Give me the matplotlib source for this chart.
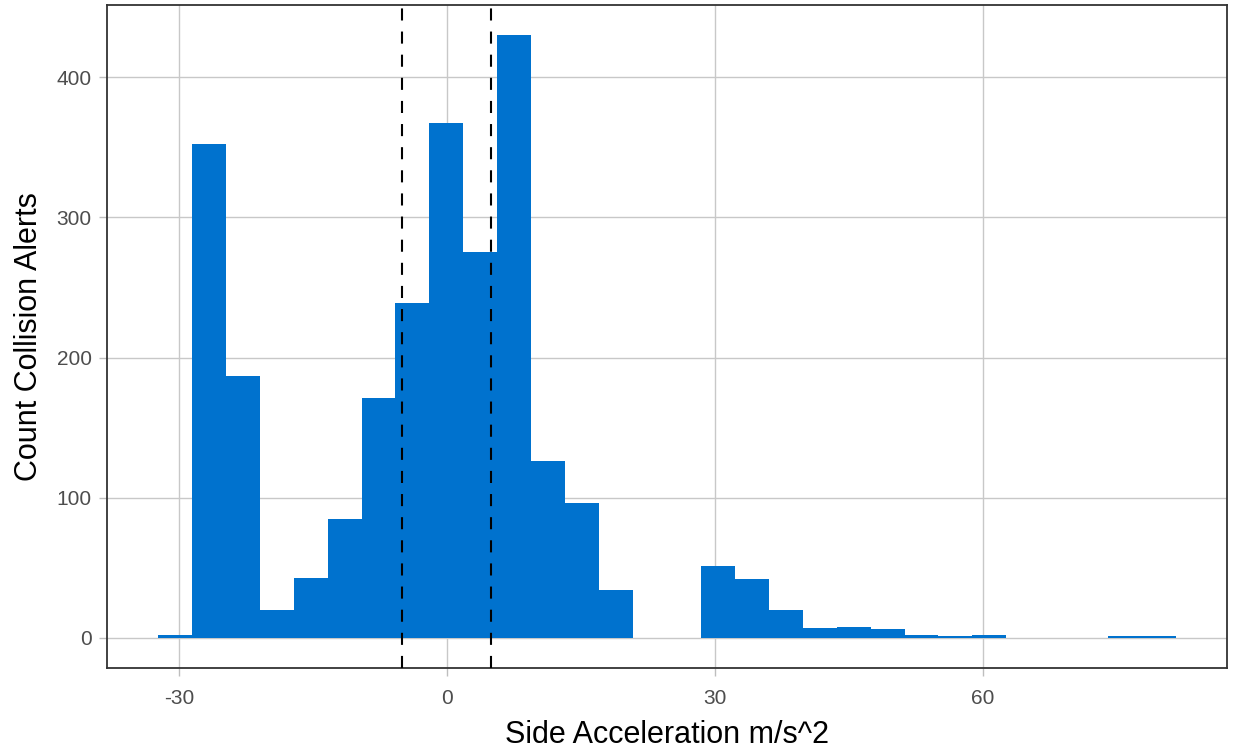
import matplotlib
matplotlib.use("Agg")
import matplotlib.pyplot as plt
import numpy as np

# histogram of side acceleration (30 bins)
BIN_START = -32.35
BIN_END = 81.65
COUNTS = [2, 352, 187, 20, 43, 85, 171, 239, 367, 275,
          430, 126, 96, 34, 0, 0, 51, 42, 20, 7,
          8, 6, 2, 1, 2, 0, 0, 0, 1, 1]
THRESHOLDS = [-5, 5]
X_TICKS = [-30, 0, 30, 60]
Y_TICKS = [0, 100, 200, 300, 400]

BAR_COLOR = "#0072CE"

plt.rcParams["font.family"] = ["Liberation Sans", "DejaVu Sans"]
plt.rcParams["axes.unicode_minus"] = False

edges = np.linspace(BIN_START, BIN_END, len(COUNTS) + 1)

fig = plt.figure(figsize=(12.33, 7.48), dpi=100)
ax = fig.add_axes([0.0868, 0.107, 0.9083, 0.8863])

ax.bar(edges[:-1], COUNTS, width=np.diff(edges), align="edge",
       color=BAR_COLOR, edgecolor="none", zorder=2)
for t in THRESHOLDS:
    ax.axvline(t, color="black", linewidth=1.5, linestyle=(0, (5.8, 5.3)), zorder=3)

span = BIN_END - BIN_START
ax.set_xlim(BIN_START - 0.05 * span, BIN_END + 0.05 * span)
ax.set_ylim(-0.05 * max(COUNTS), max(COUNTS) * 1.05)

ax.set_xticks(X_TICKS)
ax.set_yticks(Y_TICKS)
ax.grid(True, color="#C8C8C8", linewidth=1.0, zorder=0)
ax.set_axisbelow(True)

ax.tick_params(axis="both", colors="#BEBEBE", labelcolor="#4D4D4D",
               labelsize=15, length=6, width=1)
ax.tick_params(axis="x", pad=9.5)
ax.tick_params(axis="y", pad=5)
for side in ax.spines.values():
    side.set_color("#333333")
    side.set_linewidth(1.3)

ax.set_xlabel("Side Acceleration m/s^2", fontsize=22, color="black", labelpad=8)
ax.set_ylabel("Count Collision Alerts", fontsize=22, color="black", labelpad=9)

fig.savefig("out.png", dpi=100)
